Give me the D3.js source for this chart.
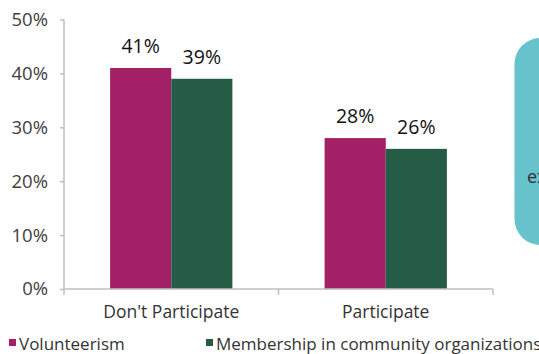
<!DOCTYPE html>
<html>
<head>
<meta charset="utf-8">
<script src="https://cdn.jsdelivr.net/npm/d3@7"></script>
<style>
  html, body { margin: 0; padding: 0; background: #fff; }
  svg { display: block; }
  text { font-family: "Open Sans", "Noto Sans", sans-serif; }
</style>
</head>
<body>
<svg id="chart" width="539" height="354"></svg>
<script>
// Participation groups and the two measured series (percent)
const categories = ["Don't Participate", "Participate"];
const seriesNames = ["Volunteerism", "Membership in community organizations"];
const volunteerism = [41, 28];
const membership = [39, 26];
const yTicks = [0, 10, 20, 30, 40, 50];

const colors = ["#A32066", "#255C45"];
const axisGrey = "#BFBFBF";

const svg = d3.select("#chart");

const plot = { left: 64, right: 493, top: 19.5, bottom: 289 };

const y = d3.scaleLinear().domain([0, 50]).range([plot.bottom, plot.top]);
const x0 = d3.scaleBand().domain(categories)
  .range([plot.left, plot.right])
  .paddingInner(0.43).paddingOuter(0.215);
const x1 = d3.scaleBand().domain(seriesNames).range([0, x0.bandwidth()]);

const rows = categories.map((c, i) => ({
  cat: c,
  values: [
    { s: seriesNames[0], v: volunteerism[i], color: colors[0] },
    { s: seriesNames[1], v: membership[i], color: colors[1] }
  ]
}));

// Side call-out panel, partly outside the frame
svg.append("rect")
  .attr("x", 514.5).attr("y", 38)
  .attr("width", 80).attr("height", 207)
  .attr("rx", 26).attr("ry", 26)
  .attr("fill", "#67C2CC");
svg.append("text")
  .attr("x", 527).attr("y", 183)
  .attr("font-size", 18).attr("fill", "#333")
  .text("ex");

// Y axis
const yAxis = d3.axisLeft(y).tickValues(yTicks).tickSize(4).tickPadding(12)
  .tickFormat(d => d + "%");
const gy = svg.append("g").attr("transform", `translate(${plot.left},0)`).call(yAxis);
gy.select(".domain").attr("stroke", axisGrey).attr("stroke-width", 1.5)
  .attr("d", `M0,${plot.top}V${plot.bottom}`);
gy.selectAll(".tick line").attr("stroke", axisGrey).attr("stroke-width", 1.5);
gy.selectAll(".tick text").attr("font-size", 18.5).attr("fill", "#404040")
  .attr("font-family", "'Open Sans', 'Noto Sans', sans-serif");

// Bars
const groups = svg.append("g").selectAll("g").data(rows).join("g")
  .attr("transform", d => `translate(${x0(d.cat)},0)`);
groups.selectAll("rect").data(d => d.values).join("rect")
  .attr("x", d => x1(d.s))
  .attr("y", d => y(d.v))
  .attr("width", x1.bandwidth())
  .attr("height", d => y(0) - y(d.v))
  .attr("fill", d => d.color);

// Value labels
groups.selectAll("text").data(d => d.values).join("text")
  .attr("x", d => x1(d.s) + x1.bandwidth() / 2)
  .attr("y", d => y(d.v) - 15)
  .attr("text-anchor", "middle")
  .attr("font-size", 19.5).attr("fill", "#111")
  .text(d => d.v + "%");

// X axis: baseline with ticks at category boundaries
const boundaries = [plot.left, (plot.left + plot.right) / 2, plot.right];
const gx = svg.append("g");
gx.append("line")
  .attr("x1", plot.left).attr("x2", plot.right)
  .attr("y1", plot.bottom).attr("y2", plot.bottom)
  .attr("stroke", axisGrey).attr("stroke-width", 1.5);
gx.selectAll("line.bt").data(boundaries).join("line").attr("class", "bt")
  .attr("x1", d => d).attr("x2", d => d)
  .attr("y1", plot.bottom).attr("y2", plot.bottom + 6)
  .attr("stroke", axisGrey).attr("stroke-width", 1.5);
gx.selectAll("text").data(categories).join("text")
  .attr("x", d => x0(d) + x0.bandwidth() / 2)
  .attr("y", 318)
  .attr("text-anchor", "middle")
  .attr("font-size", 17.5).attr("fill", "#333")
  .text(d => d);

// Legend
const legendX = [9, 206];
const lg = svg.append("g").selectAll("g").data(seriesNames).join("g")
  .attr("transform", (d, i) => `translate(${legendX[i]},0)`);
lg.append("rect").attr("x", 0).attr("y", 339).attr("width", 7).attr("height", 7)
  .attr("fill", (d, i) => colors[i]);
lg.append("text").attr("x", 10).attr("y", 350)
  .attr("font-size", 17).attr("fill", "#333")
  .text(d => d);
</script>
</body>
</html>
